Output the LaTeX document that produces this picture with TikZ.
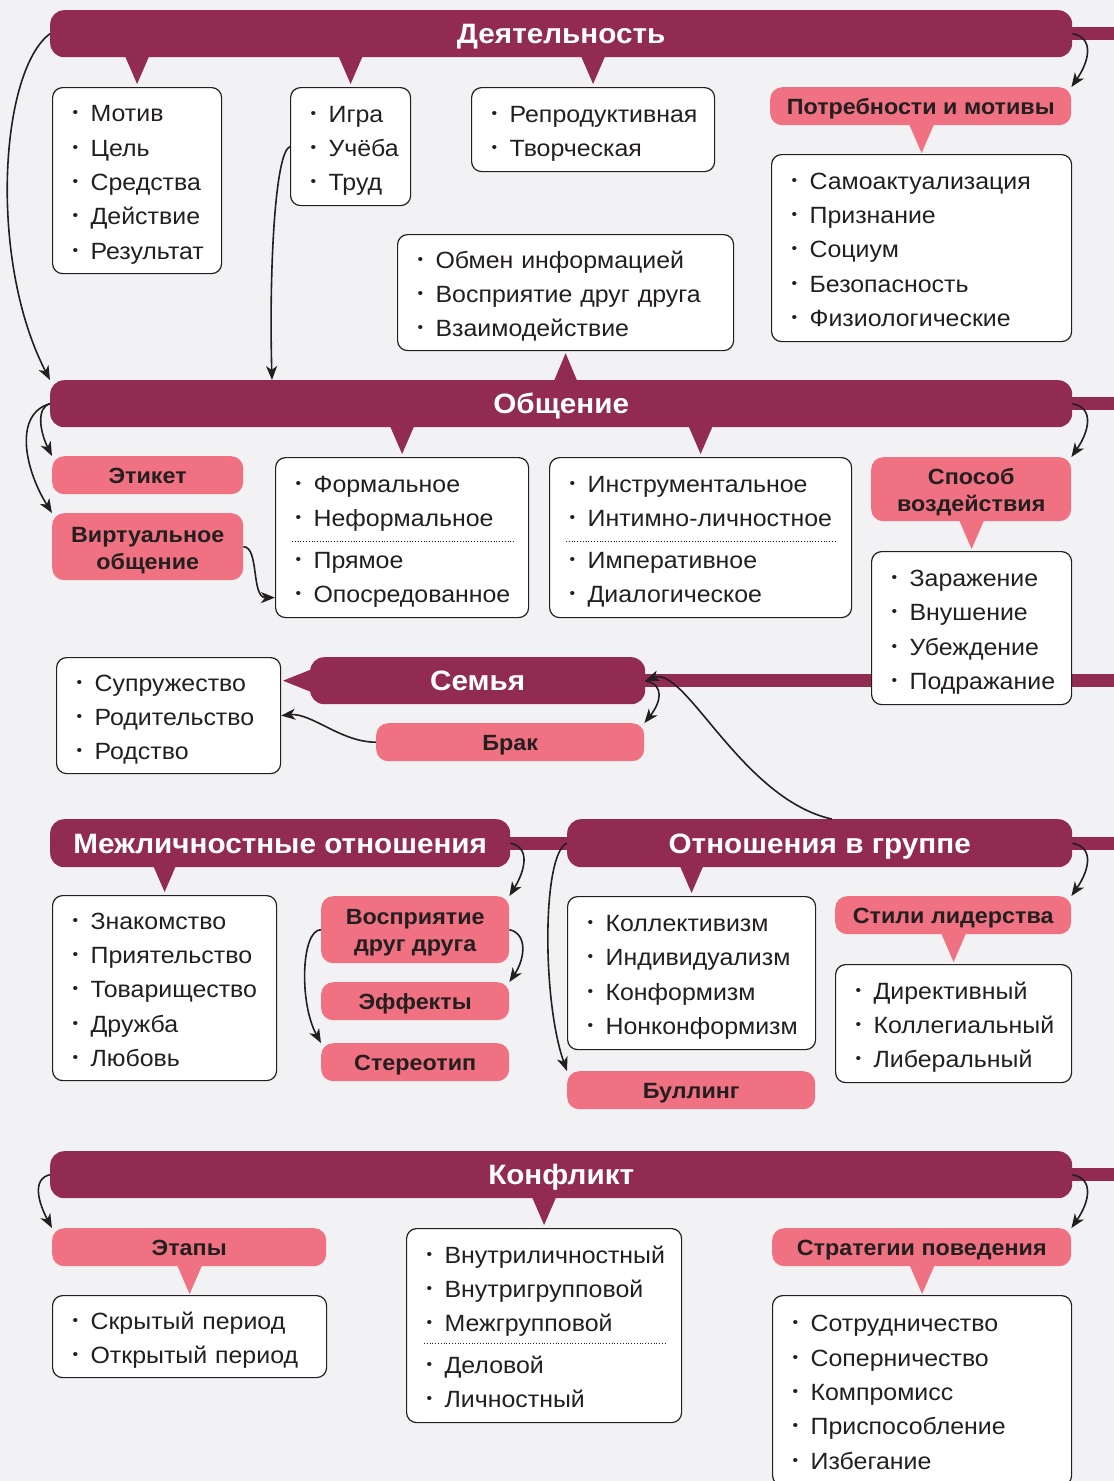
\documentclass[tikz,border=0pt]{standalone}
\usepackage{fontspec}
\setmainfont{Liberation Sans}[FakeStretch=1.06]
\usepackage{tikz}
\usetikzlibrary{arrows.meta}
\usepackage{xcolor}
\definecolor{sovmaroon}{RGB}{146,43,82}
\definecolor{sovpink}{RGB}{240,113,129}
\definecolor{sovink}{RGB}{35,31,32}
\definecolor{sovpaper}{RGB}{242,241,243}
\newcommand{\listfont}{\fontsize{23.5}{34.3}\selectfont}
\newcommand{\headfont}{\fontsize{28}{32}\selectfont\bfseries}
\newcommand{\tagfont}{\fontsize{22}{27}\selectfont\bfseries}
\newcommand{\itm}[1]{\mbox{\rule[-7.3pt]{0pt}{34.3pt}\makebox[18pt][l]{\raisebox{4pt}{\fontsize{15}{15}\selectfont •}}#1}}
\newcommand{\tall}{\rule{0pt}{22pt}}
\tikzstyle{headbox} = [rectangle, rounded corners=14pt, fill=sovmaroon, text=white, font=\headfont, inner sep=0pt, text height=24pt, text depth=4pt, anchor=north west]
\tikzstyle{tagbox} = [rectangle, rounded corners=12pt, fill=sovpink, text=sovink, font=\tagfont, align=center, inner sep=0pt, anchor=north west]
\tikzstyle{tagone} = [tagbox, text height=20pt, text depth=4pt]
\tikzstyle{listbox} = [rectangle, rounded corners=10pt, draw=sovink, line width=1.2pt, fill=white, text=sovink, font=\listfont, align=left, inner xsep=20pt, inner ysep=0pt, anchor=north west]
\tikzstyle{hdbar} = [line width=13pt, color=sovmaroon]
\tikzstyle{ptr} = [fill=sovmaroon]
\tikzstyle{ptrpink} = [fill=sovpink]
\tikzstyle{sepline} = [line width=0.8pt, dash pattern=on 0.8pt off 2pt, color=sovink]
\tikzstyle{arrow} = [line width=1.6pt, -{Stealth[length=14pt,width=11pt,inset=4pt]}, color=sovink]

\begin{document}
\begin{tikzpicture}[x=1pt, y=-1pt]
\useasboundingbox (0,0) rectangle (1114,1481);
\fill[sovpaper] (0,0) rectangle (1114,1481);
\coordinate (edge) at (1114,0);

% Headers
\node (act) [headbox, minimum width=1022pt, minimum height=47pt] at (50,10) {Деятельность};
\node (comm) [headbox, minimum width=1022pt, minimum height=47pt] at (50,380) {Общение};
\node (family) [headbox, minimum width=335pt, minimum height=47pt] at (310,657) {Семья};
\node (interp) [headbox, minimum width=460pt, minimum height=48pt] at (50,819) {Межличностные отношения};
\node (group) [headbox, minimum width=505pt, minimum height=48pt] at (567,819) {Отношения в группе};
\node (conflict) [headbox, minimum width=1022pt, minimum height=47pt] at (50,1151) {Конфликт};

% Bars
\draw[hdbar] (act.east) -- (act.east -| edge);
\draw[hdbar] (comm.east) -- (comm.east -| edge);
\draw[hdbar] (family.east) -- (family.east -| edge);
\draw[hdbar] (interp.east) -- (group.west);
\draw[hdbar] (group.east) -- (group.east -| edge);
\draw[hdbar] (conflict.east) -- (conflict.east -| edge);

% Pink labels
\node (needs) [tagone, minimum width=301pt, minimum height=38pt] at (770,87) {Потребности и мотивы};
\node (etiquette) [tagone, minimum width=191pt, minimum height=38pt] at (52,456) {Этикет};
\node (virtual) [tagbox, minimum width=191pt, minimum height=67pt] at (52,513) {\tall Виртуальное\\общение};
\node (influence) [tagbox, minimum width=200pt, minimum height=64pt] at (871,457) {\tall Способ\\воздействия};
\node (marriage) [tagone, minimum width=268pt, minimum height=38pt] at (376,723) {Брак};
\node (perception) [tagbox, minimum width=188pt, minimum height=67pt] at (321,896) {\tall Восприятие\\друг друга};
\node (effects) [tagone, minimum width=188pt, minimum height=38pt] at (321,982) {Эффекты};
\node (stereotype) [tagone, minimum width=188pt, minimum height=38pt] at (321,1043) {Стереотип};
\node (bullying) [tagone, minimum width=248pt, minimum height=38pt] at (567,1071) {Буллинг};
\node (leadership) [tagone, minimum width=236pt, minimum height=38pt] at (835,896) {Стили лидерства};
\node (stages) [tagone, minimum width=274pt, minimum height=38pt] at (52,1228) {Этапы};
\node (strategy) [tagone, minimum width=299pt, minimum height=38pt] at (772,1228) {Стратегии поведения};

% Lists
\node (structure) [listbox, text width=129pt, minimum height=186pt] at (52,87) {\itm{Мотив}\\\itm{Цель}\\\itm{Средства}\\\itm{Действие}\\\itm{Результат}};
\node (kinds) [listbox, text width=80pt, minimum height=118pt] at (290,87) {\itm{Игра}\\\itm{Учёба}\\\itm{Труд}};
\node (character) [listbox, text width=203pt, minimum height=84pt] at (471,87) {\itm{Репродуктивная}\\\itm{Творческая}};
\node (needlist) [listbox, text width=260pt, minimum height=187pt] at (771,154) {\itm{Самоактуализация}\\\itm{Признание}\\\itm{Социум}\\\itm{Безопасность}\\\itm{Физиологические}};
\node (sides) [listbox, text width=296pt, minimum height=116pt] at (397,234) {\itm{Обмен информацией}\\\itm{Восприятие друг друга}\\\itm{Взаимодействие}};
\node (forms) [listbox, text width=213pt, minimum height=160pt] at (275,457) {\itm{Формальное}\\\itm{Неформальное}\\[8pt]\itm{Прямое}\\\itm{Опосредованное}};
\node (types) [listbox, text width=262pt, minimum height=160pt] at (549,457) {\itm{Инструментальное}\\\itm{Интимно-личностное}\\[8pt]\itm{Императивное}\\\itm{Диалогическое}};
\node (methods) [listbox, text width=160pt, minimum height=153pt] at (871,551) {\itm{Заражение}\\\itm{Внушение}\\\itm{Убеждение}\\\itm{Подражание}};
\node (bonds) [listbox, text width=184pt, minimum height=116pt] at (56,657) {\itm{Супружество}\\\itm{Родительство}\\\itm{Родство}};
\node (closeness) [listbox, text width=184pt, minimum height=185pt] at (52,895) {\itm{Знакомство}\\\itm{Приятельство}\\\itm{Товарищество}\\\itm{Дружба}\\\itm{Любовь}};
\node (values) [listbox, text width=208pt, minimum height=153pt] at (567,896) {\itm{Коллективизм}\\\itm{Индивидуализм}\\\itm{Конформизм}\\\itm{Нонконформизм}};
\node (styles) [listbox, text width=196pt, minimum height=118pt] at (835,964) {\itm{Директивный}\\\itm{Коллегиальный}\\\itm{Либеральный}};
\node (periods) [listbox, text width=234pt, minimum height=82pt] at (52,1295) {\itm{Скрытый период}\\\itm{Открытый период}};
\node (sorts) [listbox, text width=235pt, minimum height=194pt] at (406,1228) {\itm{Внутриличностный}\\\itm{Внутригрупповой}\\\itm{Межгрупповой}\\[7pt]\itm{Деловой}\\\itm{Личностный}};
\node (behaviour) [listbox, text width=259pt, minimum height=190pt] at (772,1295) {\itm{Сотрудничество}\\\itm{Соперничество}\\\itm{Компромисс}\\\itm{Приспособление}\\\itm{Избегание}};

% Dotted separators
\draw[sepline] ([shift={(17,84)}]forms.north west) -- ([shift={(-15,84)}]forms.north east);
\draw[sepline] ([shift={(17,84)}]types.north west) -- ([shift={(-16,84)}]types.north east);
\draw[sepline] ([shift={(18,115)}]sorts.north west) -- ([shift={(-16,115)}]sorts.north east);

% Pointers
\fill[ptr] ([shift={(0,-3)}]structure.north) -- ++(-13,-30) -- ++(26,0) -- cycle;
\fill[ptr] ([shift={(0,-3)}]kinds.north) -- ++(-13,-30) -- ++(26,0) -- cycle;
\fill[ptr] ([shift={(0,-3)}]character.north) -- ++(-13,-30) -- ++(26,0) -- cycle;
\fill[ptr] ([shift={(0,2)}]sides.south) -- ++(-13,31) -- ++(26,0) -- cycle;
\fill[ptr] ([shift={(0,-3)}]forms.north) -- ++(-13,-30) -- ++(26,0) -- cycle;
\fill[ptr] ([shift={(0,-3)}]types.north) -- ++(-13,-30) -- ++(26,0) -- cycle;
\fill[ptr] ([shift={(-27,0)}]family.west) -- ++(35,-14) -- ++(0,28) -- cycle;
\fill[ptr] ([shift={(0,-3)}]closeness.north) -- ++(-13,-30) -- ++(26,0) -- cycle;
\fill[ptr] ([shift={(0,-3)}]values.north) -- ++(-13,-30) -- ++(26,0) -- cycle;
\fill[ptr] ([shift={(0,-3)}]sorts.north) -- ++(-13,-30) -- ++(26,0) -- cycle;
\fill[ptrpink] ([shift={(0,-1)}]needlist.north) -- ++(-13,-30) -- ++(26,0) -- cycle;
\fill[ptrpink] ([shift={(0,-2)}]methods.north) -- ++(-13,-30) -- ++(26,0) -- cycle;
\fill[ptrpink] ([shift={(0,-2)}]styles.north) -- ++(-13,-30) -- ++(26,0) -- cycle;
\fill[ptrpink] ([shift={(0,-1)}]periods.north) -- ++(-13,-30) -- ++(26,0) -- cycle;
\fill[ptrpink] ([shift={(0,-1)}]behaviour.north) -- ++(-13,-30) -- ++(26,0) -- cycle;

% Arrows
\draw[arrow] (act.west) .. controls +(-50,37) and +(-62,-120) .. (comm.north west);
\draw[arrow] (kinds.west) .. controls +(-15,5) and +(-3,-110) .. ([shift={(222,0)}]comm.north west);
\draw[arrow] (act.east) .. controls +(22,4) and +(18,-26) .. (needs.north east);
\draw[arrow] (comm.west) .. controls +(-14,4) and +(-12,-24) .. (etiquette.north west);
\draw[arrow] (comm.west) .. controls +(-36,10) and +(-28,-45) .. (virtual.north west);
\draw[arrow] (virtual.east) .. controls +(16,0) and +(-24,0) .. ([shift={(0,60)}]forms.west);
\draw[arrow] (comm.east) .. controls +(22,4) and +(18,-26) .. (influence.north east);
\draw[arrow] (family.east) .. controls +(20,4) and +(16,-20) .. (marriage.north east);
\draw[arrow] (marriage.west) .. controls +(-35,0) and +(30,-3) .. (bonds.east);
\draw[arrow] ([shift={(12,0)}]group.north) .. controls +(-90,-20) and +(40,-15) .. (family.east);
\draw[arrow] (interp.east) .. controls +(20,4) and +(16,-26) .. (perception.north east);
\draw[arrow] (perception.east) .. controls +(18,4) and +(16,-24) .. (effects.north east);
\draw[arrow] (perception.west) .. controls +(-20,0) and +(-22,-40) .. (stereotype.north west);
\draw[arrow] (group.west) .. controls +(-25,10) and +(-25,-70) .. (bullying.north west);
\draw[arrow] (group.east) .. controls +(22,4) and +(18,-26) .. (leadership.north east);
\draw[arrow] (conflict.west) .. controls +(-18,4) and +(-14,-26) .. (stages.north west);
\draw[arrow] (conflict.east) .. controls +(22,4) and +(18,-26) .. (strategy.north east);
\end{tikzpicture}
\end{document}
